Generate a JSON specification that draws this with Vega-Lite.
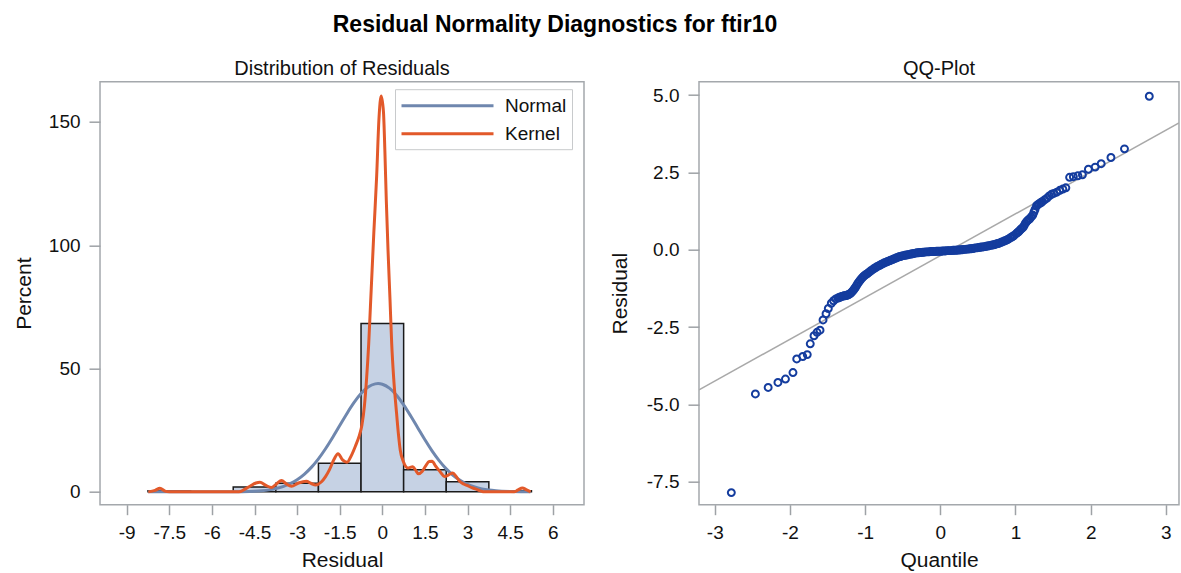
{
  "$schema": "https://vega.github.io/schema/vega-lite/v6.json",
  "background": "white",
  "padding": {"left": 12, "top": 13.7, "right": 0, "bottom": 0},
  "title": {"text": "Residual Normality Diagnostics for ftir10", "fontSize": 23, "fontWeight": "bold", "font": "Liberation Sans", "color": "#000000", "anchor": "middle", "dx": -41, "offset": 20.6},
  "datasets": {
    "hist": [
      {"lo": -8.25, "hi": -6.75, "pct": 0.44},
      {"lo": -5.25, "hi": -3.75, "pct": 1.95},
      {"lo": -3.75, "hi": -2.25, "pct": 3.5},
      {"lo": -2.25, "hi": -0.75, "pct": 11.6},
      {"lo": -0.75, "hi": 0.75, "pct": 68.3},
      {"lo": 0.75, "hi": 2.25, "pct": 9.0},
      {"lo": 2.25, "hi": 3.75, "pct": 4.1},
      {"lo": 3.75, "hi": 5.25, "pct": 0.44}
    ],
    "curves": [
      {"res": -8.24, "pct": 0, "curve": "Normal"},
      {"res": -6.0, "pct": 0, "curve": "Normal"},
      {"res": -5.5, "pct": 0.01, "curve": "Normal"},
      {"res": -5.0, "pct": 0.08, "curve": "Normal"},
      {"res": -4.5, "pct": 0.27, "curve": "Normal"},
      {"res": -4.25, "pct": 0.48, "curve": "Normal"},
      {"res": -4.0, "pct": 0.81, "curve": "Normal"},
      {"res": -3.75, "pct": 1.34, "curve": "Normal"},
      {"res": -3.5, "pct": 2.14, "curve": "Normal"},
      {"res": -3.25, "pct": 3.31, "curve": "Normal"},
      {"res": -3.0, "pct": 4.93, "curve": "Normal"},
      {"res": -2.75, "pct": 7.12, "curve": "Normal"},
      {"res": -2.5, "pct": 9.93, "curve": "Normal"},
      {"res": -2.25, "pct": 13.4, "curve": "Normal"},
      {"res": -2.0, "pct": 17.48, "curve": "Normal"},
      {"res": -1.75, "pct": 22.04, "curve": "Normal"},
      {"res": -1.5, "pct": 26.88, "curve": "Normal"},
      {"res": -1.25, "pct": 31.7, "curve": "Normal"},
      {"res": -1.0, "pct": 36.14, "curve": "Normal"},
      {"res": -0.75, "pct": 39.85, "curve": "Normal"},
      {"res": -0.5, "pct": 42.48, "curve": "Normal"},
      {"res": -0.25, "pct": 43.78, "curve": "Normal"},
      {"res": -0.15, "pct": 43.9, "curve": "Normal"},
      {"res": 0.0, "pct": 43.63, "curve": "Normal"},
      {"res": 0.25, "pct": 42.05, "curve": "Normal"},
      {"res": 0.5, "pct": 39.18, "curve": "Normal"},
      {"res": 0.75, "pct": 35.3, "curve": "Normal"},
      {"res": 1.0, "pct": 30.75, "curve": "Normal"},
      {"res": 1.25, "pct": 25.91, "curve": "Normal"},
      {"res": 1.5, "pct": 21.1, "curve": "Normal"},
      {"res": 1.75, "pct": 16.62, "curve": "Normal"},
      {"res": 2.0, "pct": 12.65, "curve": "Normal"},
      {"res": 2.25, "pct": 9.32, "curve": "Normal"},
      {"res": 2.5, "pct": 6.63, "curve": "Normal"},
      {"res": 2.75, "pct": 4.57, "curve": "Normal"},
      {"res": 3.0, "pct": 3.04, "curve": "Normal"},
      {"res": 3.25, "pct": 1.96, "curve": "Normal"},
      {"res": 3.5, "pct": 1.22, "curve": "Normal"},
      {"res": 3.75, "pct": 0.73, "curve": "Normal"},
      {"res": 4.0, "pct": 0.43, "curve": "Normal"},
      {"res": 4.5, "pct": 0.13, "curve": "Normal"},
      {"res": 5.0, "pct": 0.03, "curve": "Normal"},
      {"res": 5.22, "pct": 0, "curve": "Normal"},
      {"res": -8.24, "pct": 0, "curve": "Kernel"},
      {"res": -8.0, "pct": 0.6, "curve": "Kernel"},
      {"res": -7.83, "pct": 1.5, "curve": "Kernel"},
      {"res": -7.65, "pct": 0.3, "curve": "Kernel"},
      {"res": -7.5, "pct": 0, "curve": "Kernel"},
      {"res": -5.05, "pct": 0, "curve": "Kernel"},
      {"res": -4.85, "pct": 1.0, "curve": "Kernel"},
      {"res": -4.66, "pct": 2.3, "curve": "Kernel"},
      {"res": -4.45, "pct": 3.6, "curve": "Kernel"},
      {"res": -4.31, "pct": 3.9, "curve": "Kernel"},
      {"res": -4.1, "pct": 2.6, "curve": "Kernel"},
      {"res": -3.9, "pct": 1.8, "curve": "Kernel"},
      {"res": -3.72, "pct": 3.3, "curve": "Kernel"},
      {"res": -3.55, "pct": 4.6, "curve": "Kernel"},
      {"res": -3.38, "pct": 3.2, "curve": "Kernel"},
      {"res": -3.2, "pct": 2.3, "curve": "Kernel"},
      {"res": -2.95, "pct": 3.6, "curve": "Kernel"},
      {"res": -2.68, "pct": 4.3, "curve": "Kernel"},
      {"res": -2.5, "pct": 3.4, "curve": "Kernel"},
      {"res": -2.35, "pct": 2.8, "curve": "Kernel"},
      {"res": -2.15, "pct": 4.0, "curve": "Kernel"},
      {"res": -2.0, "pct": 6.2, "curve": "Kernel"},
      {"res": -1.86, "pct": 9.0, "curve": "Kernel"},
      {"res": -1.7, "pct": 13.2, "curve": "Kernel"},
      {"res": -1.56, "pct": 15.5, "curve": "Kernel"},
      {"res": -1.4, "pct": 13.0, "curve": "Kernel"},
      {"res": -1.24, "pct": 12.0, "curve": "Kernel"},
      {"res": -1.1, "pct": 14.5, "curve": "Kernel"},
      {"res": -0.95, "pct": 18.5, "curve": "Kernel"},
      {"res": -0.82, "pct": 22.5, "curve": "Kernel"},
      {"res": -0.72, "pct": 27, "curve": "Kernel"},
      {"res": -0.63, "pct": 35, "curve": "Kernel"},
      {"res": -0.56, "pct": 45, "curve": "Kernel"},
      {"res": -0.48, "pct": 60, "curve": "Kernel"},
      {"res": -0.42, "pct": 75, "curve": "Kernel"},
      {"res": -0.36, "pct": 90, "curve": "Kernel"},
      {"res": -0.3, "pct": 105, "curve": "Kernel"},
      {"res": -0.2, "pct": 128, "curve": "Kernel"},
      {"res": -0.12, "pct": 151, "curve": "Kernel"},
      {"res": -0.04, "pct": 160.5, "curve": "Kernel"},
      {"res": 0.04, "pct": 154, "curve": "Kernel"},
      {"res": 0.09, "pct": 138, "curve": "Kernel"},
      {"res": 0.14, "pct": 118, "curve": "Kernel"},
      {"res": 0.2, "pct": 98, "curve": "Kernel"},
      {"res": 0.27, "pct": 78, "curve": "Kernel"},
      {"res": 0.33, "pct": 60, "curve": "Kernel"},
      {"res": 0.4, "pct": 46, "curve": "Kernel"},
      {"res": 0.5, "pct": 32, "curve": "Kernel"},
      {"res": 0.57, "pct": 23, "curve": "Kernel"},
      {"res": 0.63, "pct": 17, "curve": "Kernel"},
      {"res": 0.75, "pct": 12, "curve": "Kernel"},
      {"res": 0.9, "pct": 9.7, "curve": "Kernel"},
      {"res": 1.07, "pct": 10.2, "curve": "Kernel"},
      {"res": 1.17, "pct": 8.8, "curve": "Kernel"},
      {"res": 1.27, "pct": 7.3, "curve": "Kernel"},
      {"res": 1.4, "pct": 8.3, "curve": "Kernel"},
      {"res": 1.52, "pct": 10.4, "curve": "Kernel"},
      {"res": 1.65, "pct": 12.3, "curve": "Kernel"},
      {"res": 1.75, "pct": 12.4, "curve": "Kernel"},
      {"res": 1.88, "pct": 10.4, "curve": "Kernel"},
      {"res": 2.01, "pct": 8.5, "curve": "Kernel"},
      {"res": 2.2, "pct": 6.2, "curve": "Kernel"},
      {"res": 2.35, "pct": 7.0, "curve": "Kernel"},
      {"res": 2.48, "pct": 7.6, "curve": "Kernel"},
      {"res": 2.6, "pct": 6.2, "curve": "Kernel"},
      {"res": 2.72, "pct": 4.3, "curve": "Kernel"},
      {"res": 2.86, "pct": 3.2, "curve": "Kernel"},
      {"res": 3.0, "pct": 2.5, "curve": "Kernel"},
      {"res": 3.15, "pct": 1.7, "curve": "Kernel"},
      {"res": 3.3, "pct": 1.1, "curve": "Kernel"},
      {"res": 3.45, "pct": 0.4, "curve": "Kernel"},
      {"res": 3.6, "pct": 0, "curve": "Kernel"},
      {"res": 4.64, "pct": 0, "curve": "Kernel"},
      {"res": 4.78, "pct": 0.8, "curve": "Kernel"},
      {"res": 4.93, "pct": 1.6, "curve": "Kernel"},
      {"res": 5.08, "pct": 0.8, "curve": "Kernel"},
      {"res": 5.22, "pct": 0, "curve": "Kernel"}
    ],
    "qq": [
      {"quantile": -2.78, "residual": -7.85},
      {"quantile": -2.46, "residual": -4.66},
      {"quantile": -2.29, "residual": -4.45},
      {"quantile": -2.16, "residual": -4.29},
      {"quantile": -2.06, "residual": -4.18},
      {"quantile": -1.96, "residual": -3.97},
      {"quantile": -1.91, "residual": -3.53},
      {"quantile": -1.83, "residual": -3.45},
      {"quantile": -1.77, "residual": -3.39},
      {"quantile": -1.73, "residual": -3.04},
      {"quantile": -1.68, "residual": -2.78},
      {"quantile": -1.64, "residual": -2.67},
      {"quantile": -1.6, "residual": -2.6},
      {"quantile": -1.56, "residual": -2.27},
      {"quantile": -1.52, "residual": -2.07},
      {"quantile": -1.49, "residual": -1.9},
      {"quantile": -1.45, "residual": -1.73},
      {"quantile": -1.42, "residual": -1.65},
      {"quantile": -1.39, "residual": -1.59},
      {"quantile": -1.36, "residual": -1.56},
      {"quantile": -1.345, "residual": -1.545},
      {"quantile": -1.33, "residual": -1.53},
      {"quantile": -1.31, "residual": -1.51},
      {"quantile": -1.295, "residual": -1.5},
      {"quantile": -1.28, "residual": -1.49},
      {"quantile": -1.265, "residual": -1.485},
      {"quantile": -1.25, "residual": -1.48},
      {"quantile": -1.235, "residual": -1.465},
      {"quantile": -1.22, "residual": -1.45},
      {"quantile": -1.205, "residual": -1.43},
      {"quantile": -1.19, "residual": -1.4},
      {"quantile": -1.175, "residual": -1.36},
      {"quantile": -1.16, "residual": -1.32},
      {"quantile": -1.145, "residual": -1.27},
      {"quantile": -1.13, "residual": -1.22},
      {"quantile": -1.115, "residual": -1.16},
      {"quantile": -1.1, "residual": -1.1},
      {"quantile": -1.085, "residual": -1.05},
      {"quantile": -1.07, "residual": -1.0},
      {"quantile": -1.055, "residual": -0.95},
      {"quantile": -1.04, "residual": -0.91},
      {"quantile": -1.025, "residual": -0.87},
      {"quantile": -1.01, "residual": -0.84},
      {"quantile": -0.99, "residual": -0.8},
      {"quantile": -0.97, "residual": -0.77},
      {"quantile": -0.95, "residual": -0.73},
      {"quantile": -0.93, "residual": -0.69},
      {"quantile": -0.91, "residual": -0.66},
      {"quantile": -0.89, "residual": -0.62},
      {"quantile": -0.87, "residual": -0.59},
      {"quantile": -0.85, "residual": -0.56},
      {"quantile": -0.83, "residual": -0.53},
      {"quantile": -0.81, "residual": -0.51},
      {"quantile": -0.79, "residual": -0.48},
      {"quantile": -0.77, "residual": -0.46},
      {"quantile": -0.75, "residual": -0.43},
      {"quantile": -0.73, "residual": -0.41},
      {"quantile": -0.71, "residual": -0.39},
      {"quantile": -0.69, "residual": -0.37},
      {"quantile": -0.67, "residual": -0.35},
      {"quantile": -0.65, "residual": -0.33},
      {"quantile": -0.63, "residual": -0.31},
      {"quantile": -0.61, "residual": -0.29},
      {"quantile": -0.59, "residual": -0.27},
      {"quantile": -0.57, "residual": -0.25},
      {"quantile": -0.55, "residual": -0.23},
      {"quantile": -0.53, "residual": -0.22},
      {"quantile": -0.51, "residual": -0.2},
      {"quantile": -0.49, "residual": -0.19},
      {"quantile": -0.47, "residual": -0.18},
      {"quantile": -0.45, "residual": -0.17},
      {"quantile": -0.43, "residual": -0.16},
      {"quantile": -0.41, "residual": -0.15},
      {"quantile": -0.39, "residual": -0.14},
      {"quantile": -0.37, "residual": -0.13},
      {"quantile": -0.35, "residual": -0.12},
      {"quantile": -0.33, "residual": -0.11},
      {"quantile": -0.31, "residual": -0.1},
      {"quantile": -0.29, "residual": -0.1},
      {"quantile": -0.27, "residual": -0.09},
      {"quantile": -0.25, "residual": -0.09},
      {"quantile": -0.23, "residual": -0.08},
      {"quantile": -0.21, "residual": -0.08},
      {"quantile": -0.19, "residual": -0.07},
      {"quantile": -0.17, "residual": -0.07},
      {"quantile": -0.15, "residual": -0.07},
      {"quantile": -0.13, "residual": -0.06},
      {"quantile": -0.11, "residual": -0.06},
      {"quantile": -0.09, "residual": -0.06},
      {"quantile": -0.07, "residual": -0.06},
      {"quantile": -0.05, "residual": -0.05},
      {"quantile": -0.03, "residual": -0.05},
      {"quantile": -0.01, "residual": -0.05},
      {"quantile": 0.01, "residual": -0.05},
      {"quantile": 0.03, "residual": -0.04},
      {"quantile": 0.05, "residual": -0.04},
      {"quantile": 0.07, "residual": -0.04},
      {"quantile": 0.09, "residual": -0.03},
      {"quantile": 0.11, "residual": -0.03},
      {"quantile": 0.13, "residual": -0.03},
      {"quantile": 0.15, "residual": -0.03},
      {"quantile": 0.17, "residual": -0.02},
      {"quantile": 0.19, "residual": -0.02},
      {"quantile": 0.21, "residual": -0.02},
      {"quantile": 0.23, "residual": -0.01},
      {"quantile": 0.25, "residual": -0.01},
      {"quantile": 0.27, "residual": 0.0},
      {"quantile": 0.29, "residual": 0.0},
      {"quantile": 0.31, "residual": 0.01},
      {"quantile": 0.33, "residual": 0.01},
      {"quantile": 0.35, "residual": 0.02},
      {"quantile": 0.37, "residual": 0.02},
      {"quantile": 0.39, "residual": 0.03},
      {"quantile": 0.41, "residual": 0.03},
      {"quantile": 0.43, "residual": 0.04},
      {"quantile": 0.45, "residual": 0.05},
      {"quantile": 0.47, "residual": 0.06},
      {"quantile": 0.49, "residual": 0.06},
      {"quantile": 0.51, "residual": 0.07},
      {"quantile": 0.53, "residual": 0.08},
      {"quantile": 0.55, "residual": 0.09},
      {"quantile": 0.57, "residual": 0.09},
      {"quantile": 0.59, "residual": 0.1},
      {"quantile": 0.61, "residual": 0.11},
      {"quantile": 0.63, "residual": 0.12},
      {"quantile": 0.65, "residual": 0.13},
      {"quantile": 0.67, "residual": 0.14},
      {"quantile": 0.69, "residual": 0.15},
      {"quantile": 0.71, "residual": 0.16},
      {"quantile": 0.73, "residual": 0.17},
      {"quantile": 0.75, "residual": 0.19},
      {"quantile": 0.77, "residual": 0.2},
      {"quantile": 0.79, "residual": 0.22},
      {"quantile": 0.81, "residual": 0.24},
      {"quantile": 0.83, "residual": 0.26},
      {"quantile": 0.85, "residual": 0.28},
      {"quantile": 0.87, "residual": 0.3},
      {"quantile": 0.89, "residual": 0.32},
      {"quantile": 0.91, "residual": 0.35},
      {"quantile": 0.93, "residual": 0.38},
      {"quantile": 0.95, "residual": 0.41},
      {"quantile": 0.965, "residual": 0.43},
      {"quantile": 0.98, "residual": 0.46},
      {"quantile": 1.01, "residual": 0.52},
      {"quantile": 1.025, "residual": 0.55},
      {"quantile": 1.04, "residual": 0.58},
      {"quantile": 1.055, "residual": 0.62},
      {"quantile": 1.07, "residual": 0.66},
      {"quantile": 1.085, "residual": 0.69},
      {"quantile": 1.1, "residual": 0.72},
      {"quantile": 1.115, "residual": 0.78},
      {"quantile": 1.13, "residual": 0.85},
      {"quantile": 1.145, "residual": 0.9},
      {"quantile": 1.16, "residual": 0.94},
      {"quantile": 1.175, "residual": 0.97},
      {"quantile": 1.19, "residual": 1.0},
      {"quantile": 1.21, "residual": 1.06},
      {"quantile": 1.23, "residual": 1.12},
      {"quantile": 1.245, "residual": 1.21},
      {"quantile": 1.26, "residual": 1.3},
      {"quantile": 1.28, "residual": 1.42},
      {"quantile": 1.295, "residual": 1.45},
      {"quantile": 1.31, "residual": 1.48},
      {"quantile": 1.33, "residual": 1.51},
      {"quantile": 1.345, "residual": 1.535},
      {"quantile": 1.36, "residual": 1.56},
      {"quantile": 1.39, "residual": 1.62},
      {"quantile": 1.42, "residual": 1.67},
      {"quantile": 1.45, "residual": 1.74},
      {"quantile": 1.48, "residual": 1.79},
      {"quantile": 1.51, "residual": 1.82},
      {"quantile": 1.55, "residual": 1.86},
      {"quantile": 1.59, "residual": 1.92},
      {"quantile": 1.63, "residual": 1.96},
      {"quantile": 1.67, "residual": 2.0},
      {"quantile": 1.72, "residual": 2.34},
      {"quantile": 1.77, "residual": 2.36},
      {"quantile": 1.83, "residual": 2.39},
      {"quantile": 1.89, "residual": 2.42},
      {"quantile": 1.97, "residual": 2.6},
      {"quantile": 2.06, "residual": 2.67},
      {"quantile": 2.14, "residual": 2.78},
      {"quantile": 2.27, "residual": 2.98},
      {"quantile": 2.45, "residual": 3.26},
      {"quantile": 2.78, "residual": 4.96}
    ],
    "refline": [
      {"quantile": -3.21, "residual": -4.53},
      {"quantile": 3.175, "residual": 4.1}
    ]
  },
  "spacing": 23,
  "hconcat": [
    {
      "width": 484,
      "height": 423,
      "title": {"text": "Distribution of Residuals", "fontSize": 20, "fontWeight": "normal", "font": "Liberation Sans", "color": "#111111", "baseline": "alphabetic", "offset": -13, "anchor": "middle"},
      "layer": [
        {
          "data": {"name": "hist"},
          "mark": {"type": "rect", "fill": "#C6D2E4", "stroke": "#1A1A1A", "strokeWidth": 1.5},
          "encoding": {
            "x": {"field": "lo", "type": "quantitative", "scale": {"domain": [-9.94, 7.1], "nice": false, "zero": false},
              "axis": {"title": "Residual", "values": [-9, -7.5, -6, -4.5, -3, -1.5, 0, 1.5, 3, 4.5, 6], "labelExpr": "'' + datum.value", "tickSize": 10, "labelPadding": 9, "titleY": 62, "titleBaseline": "alphabetic"}},
            "x2": {"field": "hi"},
            "y": {"field": "pct", "type": "quantitative", "scale": {"domain": [-5.2, 166.3], "nice": false, "zero": false},
              "axis": {"title": "Percent", "values": [0, 50, 100, 150], "tickSize": 11, "labelPadding": 9, "titleX": -70, "titleBaseline": "alphabetic"}},
            "y2": {"datum": 0}
          }
        },
        {
          "data": {"name": "curves"},
          "transform": [{"filter": "datum.curve === 'Normal'"}],
          "mark": {"type": "line", "strokeWidth": 3, "interpolate": "monotone", "clip": true},
          "encoding": {
            "x": {"field": "res", "type": "quantitative"},
            "y": {"field": "pct", "type": "quantitative"},
            "color": {"field": "curve", "type": "nominal", "scale": {"domain": ["Normal", "Kernel"], "range": ["#6F87AE", "#E2592A"]},
              "legend": {"orient": "none", "legendX": 295, "legendY": 7.5, "title": null, "symbolType": "M-1,0H8.2", "symbolSize": 400, "symbolStrokeWidth": 3, "labelFontSize": 19, "labelFont": "Liberation Sans", "labelColor": "#111111", "labelOffset": 82, "padding": 5, "strokeColor": "#C8CACC", "fillColor": "white", "rowPadding": 6}}
          }
        },
        {
          "data": {"name": "curves"},
          "transform": [{"filter": "datum.curve === 'Kernel'"}],
          "mark": {"type": "line", "strokeWidth": 3, "interpolate": "monotone", "clip": true},
          "encoding": {
            "x": {"field": "res", "type": "quantitative"},
            "y": {"field": "pct", "type": "quantitative"},
            "color": {"field": "curve", "type": "nominal"}
          }
        }
      ]
    },
    {
      "width": 480,
      "height": 423,
      "title": {"text": "QQ-Plot", "fontSize": 20, "fontWeight": "normal", "font": "Liberation Sans", "color": "#111111", "baseline": "alphabetic", "offset": -13, "anchor": "middle"},
      "layer": [
        {
          "data": {"name": "refline"},
          "mark": {"type": "line", "color": "#A9A9A9", "strokeWidth": 1.5, "clip": true},
          "encoding": {
            "x": {"field": "quantile", "type": "quantitative", "scale": {"domain": [-3.21, 3.175], "nice": false, "zero": false},
              "axis": {"title": "Quantile", "values": [-3, -2, -1, 0, 1, 2, 3], "labelExpr": "'' + datum.value", "tickSize": 10, "labelPadding": 9, "titleY": 62, "titleBaseline": "alphabetic"}},
            "y": {"field": "residual", "type": "quantitative", "scale": {"domain": [-8.24, 5.43], "nice": false, "zero": false},
              "axis": {"title": "Residual", "values": [-7.5, -5, -2.5, 0, 2.5, 5], "labelExpr": "datum.value < 0 ? '-' + format(-datum.value, '.1f') : format(datum.value, '.1f')", "tickSize": 11, "labelPadding": 9, "titleX": -72.6, "titleBaseline": "alphabetic"}}
          }
        },
        {
          "data": {"name": "qq"},
          "mark": {"type": "point", "shape": "circle", "filled": false, "size": 48, "strokeWidth": 2, "color": "#143C9E", "opacity": 1},
          "encoding": {
            "x": {"field": "quantile", "type": "quantitative"},
            "y": {"field": "residual", "type": "quantitative"}
          }
        }
      ]
    }
  ],
  "config": {
    "font": "Liberation Sans",
    "view": {"stroke": "#A4A8AC", "strokeWidth": 1.5},
    "axis": {"domain": false, "grid": false, "tickColor": "#9EA2A6", "tickWidth": 1.5, "labelFont": "Liberation Sans", "labelFontSize": 19, "labelColor": "#111111", "titleFont": "Liberation Sans", "titleFontSize": 21, "titleFontWeight": "normal", "titleColor": "#111111"}
  }
}
